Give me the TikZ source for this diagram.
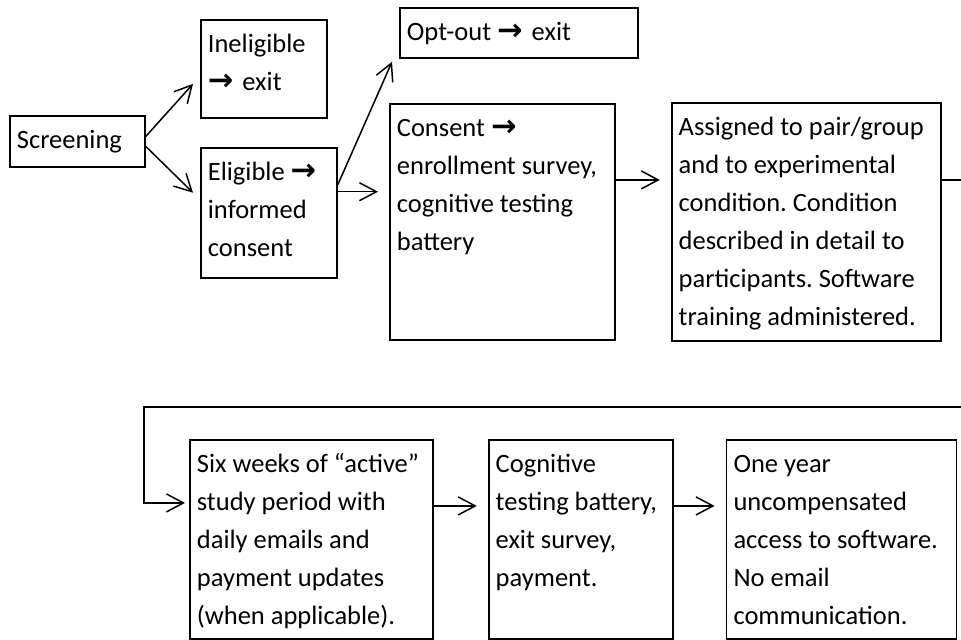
\documentclass[tikz,border=0pt]{standalone}
\usepackage{fontspec}
\setmainfont{Carlito}
\newfontfamily\arrowfont{DejaVu Sans}[Scale=1.15]
\usetikzlibrary{positioning, arrows.meta, calc}
\newcommand{\nextto}{{\arrowfont\bfseries →}\kern1.5pt}

\begin{document}
\begin{tikzpicture}[x=0.5pt, y=-0.5pt,
    stage/.style={draw, line width=0.9pt, anchor=north west, align=flush left,
      inner xsep=3.5pt, inner ysep=0pt, text height=16.5pt,
      font=\fontsize{13.25pt}{19pt}\selectfont\frenchspacing,
      execute at begin node={\hyphenpenalty=10000\relax}},
    arr/.style={-{Straight Barb[length=8.5pt,width=9pt]}, line width=0.75pt},
    gap/.style={shorten >=5.5pt}]
       \useasboundingbox (0,0) rectangle (961,639);

       % first row
       \node[stage, text width=60.5pt, text depth=9pt] (screen) at (9,115) {Screening};
       \node[stage, text width=56pt, text depth=32.5pt] (inelig) at (200,19) {Ineligible\\ \nextto{} exit};
       \node[stage, text width=61pt, text depth=48.5pt] (elig) [below=14pt of inelig.south west, anchor=north west] {Eligible \nextto\\ informed\\ consent};
       \node[stage, text width=112pt, text depth=8.5pt] (optout) at (399,7) {Opt-out \nextto{} exit};
       \node[stage, text width=105.5pt, text depth=101.5pt] (consent) at (389,103) {Consent \nextto\\ enrollment survey,\\ cognitive testing\\ battery};
       \node[stage, text width=127.5pt, text depth=102.5pt] (assign) [right=27.5pt of consent] {Assigned to pair/group\\ and to experimental\\ condition. Condition\\ described in detail to\\ participants. Software\\ training administered.};

       % second row
       \node[stage, text width=114.5pt, text depth=83pt] (six) at (189,439) {Six weeks of “active”\\ study period with\\ daily emails and\\ payment updates\\ (when applicable).};
       \node[stage, text width=85pt, text depth=83pt] (cogn) [right=27pt of six] {Cognitive\\ testing battery,\\ exit survey,\\ payment.};
       \node[stage, text width=108pt, text depth=83pt] (oneyr) [right=26pt of cogn] {One year\\ uncompensated\\ access to software.\\ No email\\ communication.};

       \coordinate (eligout) at ([yshift=10.5pt]elig.east);
       \coordinate (consentout) at ([yshift=21pt]consent.east);
       \coordinate (assignout) at ([yshift=21pt]assign.east);
       \coordinate (sixin) at ([yshift=18.25pt]six.west);
       \coordinate (sixout) at ([yshift=16.75pt]six.east);
       \coordinate (cognout) at ([yshift=16.75pt]cogn.east);
       \coordinate (rimbot) at (968,407);

       \path[arr]
       ([yshift=2.5pt]screen.east) edge ([xshift=-3.5pt,yshift=-7.5pt]inelig.west)
       ([yshift=-2.5pt]screen.east) edge ([xshift=-3.5pt,yshift=10pt]elig.west)
       ([yshift=14pt]elig.east) edge ([xshift=-3.5pt,yshift=-1.5pt]optout.south west)
       ;
       \path[arr, gap]
       (eligout) edge (eligout -| consent.west)
       (consentout) edge (consentout -| assign.west)
       (sixout) edge (sixout -| cogn.west)
       (cognout) edge (cognout -| oneyr.west)
       ;
       \draw[arr, shorten >=2pt] (assignout) -| (rimbot) -| ([xshift=-22.5pt]sixin) -- (sixin);
\end{tikzpicture}
\end{document}
